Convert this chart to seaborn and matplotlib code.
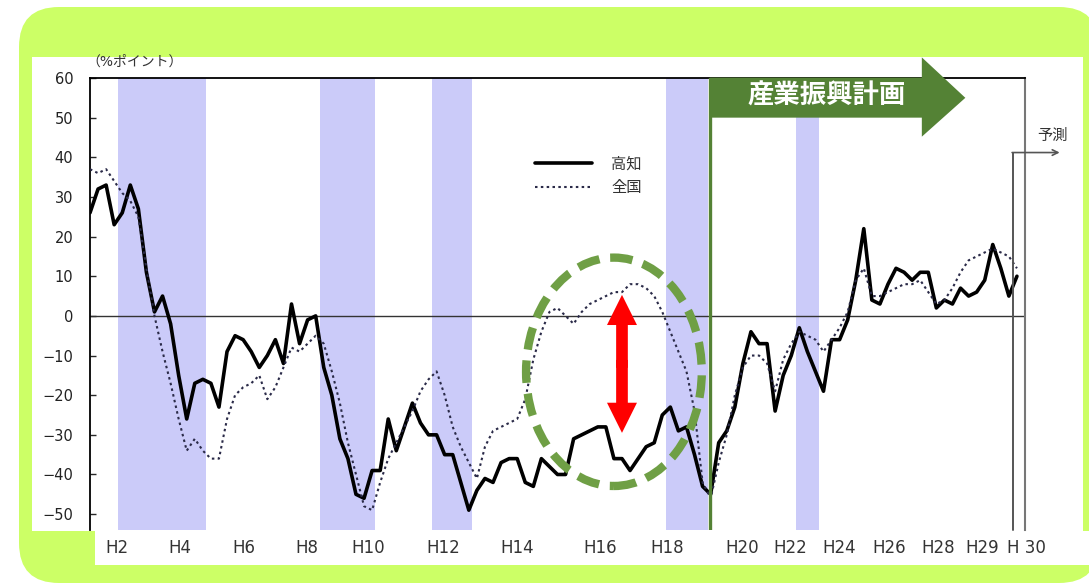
import matplotlib
matplotlib.use('Agg')
import matplotlib.pyplot as plt
import matplotlib.patches as mpatches
import pandas as pd
import seaborn as sns

# quarterly DI values (H2 Q1 .. H30 Q4)
kochi = [26, 32, 33, 23, 26, 33, 27, 11, 1, 5,
         -2, -15, -26, -17, -16, -17, -23, -9, -5, -6,
         -9, -13, -10, -6, -12, 3, -7, -1, 0, -13,
         -20, -31, -36, -45, -46, -39, -39, -26, -34, -28,
         -22, -27, -30, -30, -35, -35, -42, -49, -44, -41,
         -42, -37, -36, -36, -42, -43, -36, -38, -40, -40,
         -31, -30, -29, -28, -28, -36, -36, -39, -36, -33,
         -32, -25, -23, -29, -28, -35, -43, -45, -32, -29,
         -23, -12, -4, -7, -7, -24, -15, -10, -3, -9,
         -14, -19, -6, -6, -1, 9, 22, 4, 3, 8,
         12, 11, 9, 11, 11, 2, 4, 3, 7, 5,
         6, 9, 18, 12, 5, 10]
zenkoku = [37, 36, 37, 34, 31, 29, 25, 12, 0, -9,
           -17, -26, -34, -31, -34, -36, -36, -26, -20, -18,
           -17, -15, -21, -18, -13, -8, -9, -7, -5, -7,
           -14, -22, -32, -40, -48, -49, -42, -36, -32, -28,
           -24, -19, -16, -14, -20, -28, -33, -37, -41, -33,
           -29, -28, -27, -26, -21, -11, -4, 1, 2, 0,
           -2, 1, 3, 4, 5, 6, 6, 8, 8, 7,
           5, 1, -4, -9, -14, -24, -42, -46, -37, -30,
           -20, -13, -10, -10, -12, -19, -11, -7, -4, -5,
           -6, -9, -6, -3, 1, 9, 12, 5, 5, 6,
           7, 8, 8, 9, 6, 3, 4, 7, 11, 14,
           15, 16, 17, 16, 15, 12]
quarters = list(range(len(kochi)))

xtick_pos = [3.3, 11.1, 19.1, 26.9, 34.5, 43.8, 53.0, 63.3, 71.6,
             80.9, 86.9, 93.0, 99.1, 105.2, 110.7, 116.2]
xtick_labels = ['H2', 'H4', 'H6', 'H8', 'H10', 'H12', 'H14', 'H16', 'H18',
                'H20', 'H22', 'H24', 'H26', 'H28', 'H29', 'H 30']
recessions = [(3.5, 14.4), (28.5, 35.4), (42.4, 47.4), (71.5, 76.7), (87.6, 90.4)]
plan_start = 76.9
forecast_start = 114.5

df = pd.DataFrame({'q': quarters, 'kochi': kochi, 'zenkoku': zenkoku})

sns.set_style('white')
plt.rcParams['font.family'] = ['DejaVu Sans', 'Noto Sans CJK JP']

fig = plt.figure(figsize=(10.89, 5.84), dpi=100)
fig.patch.set_facecolor('white')

# green rounded frame + white panels behind the chart
fig.add_artist(mpatches.FancyBboxPatch((0.19, 0.01), 10.8, 5.76,
                                       boxstyle='round,pad=0,rounding_size=0.4',
                                       transform=fig.dpi_scale_trans,
                                       fc='#CCFF66', ec='none', zorder=-10))
fig.add_artist(mpatches.Rectangle((0.32, 0.53), 10.51, 4.74, transform=fig.dpi_scale_trans,
                                  fc='white', ec='none', zorder=-9))
fig.add_artist(mpatches.Rectangle((0.95, 0.19), 9.94, 0.34, transform=fig.dpi_scale_trans,
                                  fc='white', ec='none', zorder=-9))

ax = fig.add_axes([90 / 1089, 1 - 530 / 584, 935 / 1089, 452 / 584])
ax.set_facecolor('white')

for a, b in recessions:
    ax.axvspan(a, b, color='#CBCBF9', lw=0, zorder=0)
ax.axhline(0, color='#333333', lw=1, zorder=1)

sns.lineplot(data=df, x='q', y='kochi', ax=ax, color='black', lw=2.6,
             label='高知', zorder=3)
sns.lineplot(data=df, x='q', y='zenkoku', ax=ax, color='#2a2a48', lw=1.5,
             linestyle=(0, (1.2, 1.6)), label='全国', zorder=3)

ax.set_xlim(0, 116)
ax.set_ylim(-54, 60)
ax.set_yticks(range(-50, 61, 10))
ax.set_xticks([])
ax.set_xlabel('')
ax.set_ylabel('')
ax.tick_params(axis='y', direction='in', length=4, width=1, pad=12,
               labelsize=10.5, labelcolor='#222222', left=True)
for s in ['left', 'top']:
    ax.spines[s].set_color('black')
    ax.spines[s].set_linewidth(1.3)
ax.spines['right'].set_color('#777777')
ax.spines['right'].set_linewidth(1.5)
ax.spines['bottom'].set_visible(False)

for pos, lab in zip(xtick_pos, xtick_labels):
    ax.text(pos, -0.04, lab, transform=ax.get_xaxis_transform(), ha='center',
            va='center', fontsize=12, color='#333333', clip_on=False)

fig.text(86 / 1089, 1 - 62 / 584, '（%ポイント）', fontsize=10, color='#333333',
         ha='left', va='center')

ax.legend(loc='upper left', bbox_to_anchor=(0.476, 0.827), frameon=False, fontsize=11,
          handlelength=3.7, handletextpad=1.3, borderpad=0, borderaxespad=0,
          labelspacing=0.6, labelcolor='#333333')

# 産業振興計画 arrow and line
ax.axvline(plan_start, color='#548235', lw=2.4, zorder=5)
ax.add_patch(mpatches.Polygon([(plan_start, 60.1), (103.2, 60.1), (103.2, 65.2), (108.6, 55),
                               (103.2, 45.2), (103.2, 50.0), (plan_start, 50.0)],
                              closed=True, fc='#548235', ec='none', clip_on=False, zorder=6))
ax.text(91.4, 55.3, '産業振興計画', color='white', fontsize=19, fontweight='bold',
        ha='center', va='center', zorder=7)

# 予測 marker
ax.plot([forecast_start, forecast_start], [-54, 41.2], color='#555555', lw=1.4, zorder=4,
        clip_on=False)
ax.annotate('', xy=(120.3, 41.2), xytext=(forecast_start - 0.1, 41.2),
            arrowprops=dict(arrowstyle='->', color='#555555', lw=1.2,
                            shrinkA=0, shrinkB=0), annotation_clip=False)
ax.text(119.4, 45.6, '予測', fontsize=11, color='#333333', ha='center', va='center',
        clip_on=False)

# gap highlight
ax.add_patch(mpatches.Ellipse((65.0, -14.1), 21.8, 57.6, fill=False, ec='#6F9F45', lw=6,
                              linestyle=(0, (2.7, 1.3)), zorder=4))
top_v, bot_v = 5.3, -29.5
mid = (top_v + bot_v) / 2
ax.add_patch(mpatches.FancyArrow(66.0, mid - 1, 0, top_v - mid + 1, width=1.45,
                                 head_width=3.72, head_length=7.6,
                                 length_includes_head=True, color='red', lw=0, zorder=6))
ax.add_patch(mpatches.FancyArrow(66.0, mid + 1, 0, bot_v - mid - 1, width=1.45,
                                 head_width=3.72, head_length=7.6,
                                 length_includes_head=True, color='red', lw=0, zorder=6))

fig.savefig('out.png', dpi=100)
